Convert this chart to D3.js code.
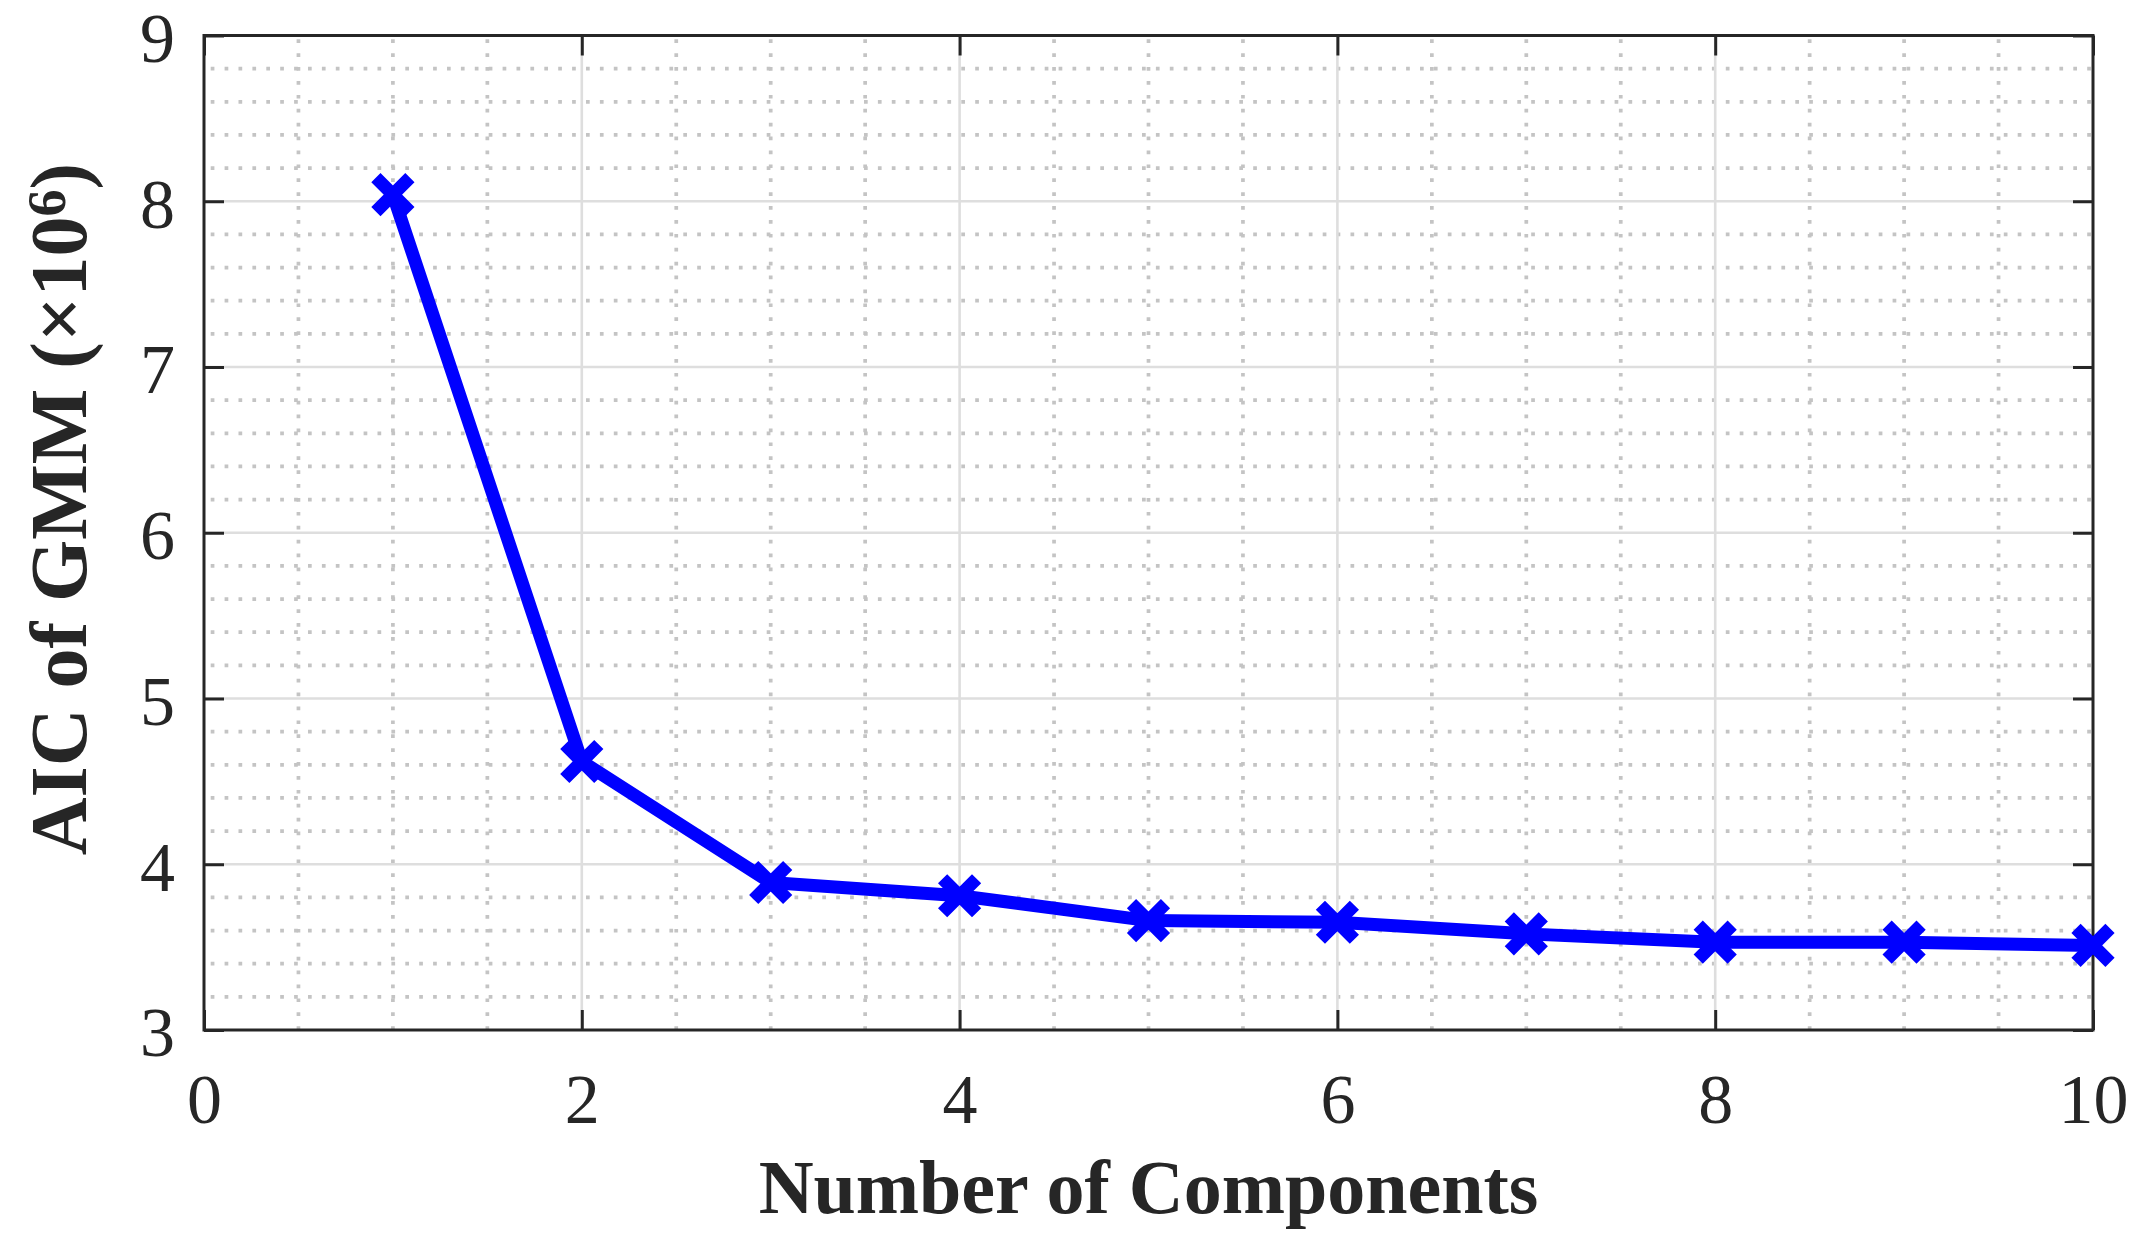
<!DOCTYPE html>
<html>
<head>
<meta charset="utf-8">
<script src="https://cdn.jsdelivr.net/npm/d3@7"></script>
<style>
  html, body { margin: 0; padding: 0; background: #fff; }
  text { font-family: "Liberation Serif", "Times New Roman", serif; fill: #262626; }
</style>
</head>
<body>
<svg id="chart" width="2142" height="1251"></svg>
<script>
const components = [1, 2, 3, 4, 5, 6, 7, 8, 9, 10];
const aicValues = [8.04, 4.62, 3.89, 3.81, 3.66, 3.65, 3.58, 3.53, 3.53, 3.51];
const xTicks = [0, 2, 4, 6, 8, 10];
const yTicks = [3, 4, 5, 6, 7, 8, 9];
const xMinor = d3.range(0.5, 10, 0.5).filter(v => v % 2 !== 0);
const yMinor = d3.range(3.2, 9, 0.2).filter(v => Math.abs(v - Math.round(v)) > 0.01);

const box = {left: 204, right: 2093, top: 35.5, bottom: 1030};
const ink = '#262626';

const svg = d3.select('#chart');
svg.append('rect').attr('width', 2142).attr('height', 1251).attr('fill', '#fff');

const x = d3.scaleLinear().domain([0, 10]).range([box.left, box.right]);
const y = d3.scaleLinear().domain([3, 9]).range([box.bottom, box.top]);

// grid: dotted minor first, solid major on top
const grid = svg.append('g');
grid.selectAll('.minor-x').data(xMinor).enter().append('line')
    .attr('x1', x).attr('x2', x).attr('y1', box.top).attr('y2', box.bottom)
    .attr('stroke', '#c4c4c4').attr('stroke-width', 3.7)
    .attr('stroke-dasharray', '3.7 10.2').attr('stroke-dashoffset', -3.8);
grid.selectAll('.minor-y').data(yMinor).enter().append('line')
    .attr('y1', y).attr('y2', y).attr('x1', box.left).attr('x2', box.right)
    .attr('stroke', '#c4c4c4').attr('stroke-width', 3.7)
    .attr('stroke-dasharray', '3.7 10.2').attr('stroke-dashoffset', -6.7);
grid.selectAll('.major-x').data(xTicks.slice(1, -1)).enter().append('line')
    .attr('x1', x).attr('x2', x).attr('y1', box.top).attr('y2', box.bottom)
    .attr('stroke', '#dedede').attr('stroke-width', 2.6);
grid.selectAll('.major-y').data(yTicks.slice(1, -1)).enter().append('line')
    .attr('y1', y).attr('y2', y).attr('x1', box.left).attr('x2', box.right)
    .attr('stroke', '#dedede').attr('stroke-width', 2.6);

// axes with inward ticks
const styleAxis = (g) => {
  g.select('.domain').remove();
  g.selectAll('.tick line').attr('stroke', ink).attr('stroke-width', 3);
  g.selectAll('.tick text').attr('fill', ink).style('font-size', '70px')
    .style('font-family', '"Liberation Serif", "Times New Roman", serif');
  return g;
};

svg.append('g').attr('transform', `translate(0,${box.bottom})`)
   .call(d3.axisBottom(x).tickValues(xTicks).tickSize(-20).tickPadding(43).tickFormat(d3.format('d')))
   .call(styleAxis);
svg.append('g').attr('transform', `translate(0,${box.top})`)
   .call(d3.axisTop(x).tickValues(xTicks).tickSize(-20).tickFormat(''))
   .call(styleAxis);
svg.append('g').attr('transform', `translate(${box.left},0)`)
   .call(d3.axisLeft(y).tickValues(yTicks).tickSize(-20).tickPadding(29).tickFormat(d3.format('d')))
   .call(styleAxis)
   .selectAll('.tick text').attr('dy', '0.37em');
svg.append('g').attr('transform', `translate(${box.right},0)`)
   .call(d3.axisRight(y).tickValues(yTicks).tickSize(-20).tickFormat(''))
   .call(styleAxis);

svg.append('rect')
   .attr('x', box.left).attr('y', box.top)
   .attr('width', box.right - box.left).attr('height', box.bottom - box.top)
   .attr('fill', 'none').attr('stroke', ink).attr('stroke-width', 3);

// series
const points = components.map((c, i) => ({c, v: aicValues[i]}));
const line = d3.line().x(d => x(d.c)).y(d => y(d.v));

svg.append('path').datum(points)
   .attr('d', line)
   .attr('fill', 'none').attr('stroke', '#0000ff')
   .attr('stroke-width', 13).attr('stroke-linejoin', 'round');

const arm = 17;
svg.append('g').selectAll('path').data(points).enter().append('path')
   .attr('d', d => {
     const cx = x(d.c), cy = y(d.v);
     return `M${cx - arm},${cy - arm}L${cx + arm},${cy + arm}M${cx - arm},${cy + arm}L${cx + arm},${cy - arm}`;
   })
   .attr('fill', 'none').attr('stroke', '#0000ff').attr('stroke-width', 13);

// labels
svg.append('text')
   .attr('x', (box.left + box.right) / 2).attr('y', 1213)
   .attr('text-anchor', 'middle')
   .style('font-size', '76px').style('font-weight', 'bold')
   .text('Number of Components');

const yLabel = svg.append('text')
   .attr('transform', `translate(86,509) rotate(-90)`)
   .attr('text-anchor', 'middle')
   .style('font-size', '80px').style('font-weight', 'bold');
yLabel.append('tspan').text('AIC of GMM (×10');
yLabel.append('tspan').attr('dy', '-0.38em').style('font-size', '54px').text('6');
yLabel.append('tspan').attr('dy', '0.26em').text(')');
</script>
</body>
</html>
